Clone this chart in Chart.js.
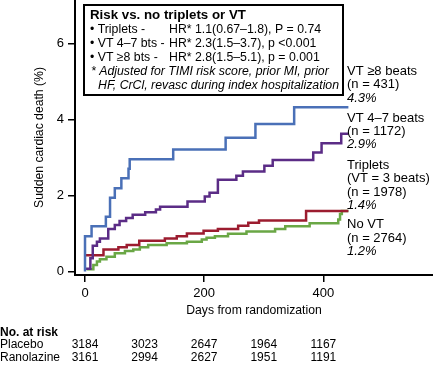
<!DOCTYPE html>
<html>
<head>
<meta charset="utf-8">
<script src="https://cdn.jsdelivr.net/npm/chart.js@4/dist/chart.umd.min.js"></script>
<style>
  body { margin: 0; background: #fff; }
  canvas { display: block; }
</style>
</head>
<body>
<canvas id="kmChart" width="433" height="366"></canvas>
<script>
// Kaplan-Meier style step curves (days, % sudden cardiac death)
const vt8Days = [0, 0, 11, 35, 42, 50, 61, 73, 75, 148, 236, 286, 351, 442];
const vt8Vals = [0, 0.93, 1.19, 1.44, 1.94, 2.19, 2.45, 2.70, 2.95, 3.21, 3.52, 3.88, 4.32, 4.32];

const vt47Days = [0, 9, 13, 20, 25, 39, 50, 58, 69, 80, 101, 119, 126, 172, 201, 209, 223, 254, 265, 301, 315, 383, 397, 430, 442];
const vt47Vals = [0.07, 0.35, 0.68, 0.78, 0.87, 1.12, 1.22, 1.33, 1.41, 1.49, 1.56, 1.63, 1.70, 1.84, 1.97, 2.07, 2.41, 2.52, 2.63, 2.78, 2.93, 3.13, 3.37, 3.62, 3.62];

const tripDays = [0, 31, 56, 70, 91, 134, 154, 171, 199, 223, 257, 274, 292, 371, 442];
const tripVals = [0.43, 0.58, 0.64, 0.70, 0.81, 0.87, 0.93, 1.00, 1.07, 1.12, 1.20, 1.28, 1.34, 1.59, 1.59];

const noVtDays = [3, 14, 20, 25, 36, 50, 67, 81, 92, 106, 137, 171, 196, 204, 218, 240, 271, 319, 336, 377, 425, 428, 431, 442];
const noVtVals = [0.06, 0.17, 0.26, 0.32, 0.39, 0.48, 0.54, 0.58, 0.64, 0.70, 0.74, 0.78, 0.84, 0.89, 0.93, 0.99, 1.05, 1.12, 1.19, 1.27, 1.37, 1.51, 1.59, 1.59];

const xTicks = [0, 200, 400];
const yTicks = [0, 2, 4, 6];

// labels at the right end of each curve (last line is italic)
const endLabels = [
  ['VT \u22658 beats', '(n = 431)', '4.3%'],
  ['VT 4\u20137 beats', '(n = 1172)', '2.9%'],
  ['Triplets', '(VT = 3 beats)', '(n = 1978)', '1.4%'],
  ['No VT', '(n = 2764)', '1.2%']
];

// hazard ratio box
const riskTitle = 'Risk vs. no triplets or VT';
const riskGroups = ['\u2022 Triplets -', '\u2022 VT 4\u20137 bts -', '\u2022 VT \u22658 bts -'];
const riskHR = ['HR* 1.1(0.67\u20131.8), P = 0.74', 'HR* 2.3(1.5\u20133.7), p <0.001', 'HR* 2.8(1.5\u20135.1), p = 0.001'];
const riskNote = ['* Adjusted for TIMI risk score, prior MI, prior', 'HF, CrCl, revasc during index hospitalization'];

// number at risk table
const atRiskDays = [0, 100, 200, 300, 400];
const placeboRisk = [3184, 3023, 2647, 1964, 1167];
const ranolazineRisk = [3161, 2994, 2627, 1951, 1191];

const FONT = '"Liberation Sans", Arial, Helvetica, sans-serif';

function pts(days, vals) {
  return days.map((d, i) => ({ x: d, y: vals[i] }));
}

function stepSet(days, vals, color) {
  return {
    data: pts(days, vals),
    borderColor: color,
    borderWidth: 2.5,
    stepped: 'before',
    pointRadius: 0,
    fill: false
  };
}

const overlayText = {
  id: 'overlayText',
  afterDraw(chart) {
    const ctx = chart.ctx;
    const xs = chart.scales.x;
    ctx.save();
    ctx.fillStyle = '#000';
    ctx.textBaseline = 'alphabetic';
    ctx.textAlign = 'left';

    // HR box
    ctx.strokeStyle = '#000';
    ctx.lineWidth = 2;
    ctx.strokeRect(84, 5, 259, 90);
    ctx.font = 'bold 13.3px ' + FONT;
    ctx.fillText(riskTitle, 90, 18.5);
    ctx.font = '12.3px ' + FONT;
    riskGroups.forEach((g, i) => {
      ctx.fillText(g, 90, 32.5 + i * 14.2);
      ctx.fillText(riskHR[i], 169, 32.5 + i * 14.2);
    });
    ctx.font = 'italic 12.3px ' + FONT;
    ctx.fillText(riskNote[0], 91, 75);
    ctx.fillText(riskNote[1], 98, 88.7);

    // end-of-curve labels
    const groupTops = [75, 121.7, 169, 228.3];
    endLabels.forEach((lines, g) => {
      lines.forEach((t, i) => {
        ctx.font = (i === lines.length - 1 ? 'italic ' : '') + '13px ' + FONT;
        ctx.fillText(t, 347, groupTops[g] + i * 13.3);
      });
    });

    // number at risk
    ctx.font = 'bold 12px ' + FONT;
    ctx.fillText('No. at risk', 0, 336);
    ctx.font = '12px ' + FONT;
    ctx.fillText('Placebo', 0, 348.3);
    ctx.fillText('Ranolazine', 0, 360.5);
    ctx.textAlign = 'center';
    atRiskDays.forEach((d, i) => {
      const px = xs.getPixelForValue(d);
      ctx.fillText(String(placeboRisk[i]), px, 348.3);
      ctx.fillText(String(ranolazineRisk[i]), px, 360.5);
    });
    ctx.restore();
  }
};

new Chart(document.getElementById('kmChart'), {
  type: 'line',
  data: {
    datasets: [
      stepSet(vt8Days, vt8Vals, '#4a70b7'),
      stepSet(vt47Days, vt47Vals, '#5b2c86'),
      stepSet(tripDays, tripVals, '#9c1c2f'),
      stepSet(noVtDays, noVtVals, '#6aa745')
    ]
  },
  options: {
    responsive: false,
    devicePixelRatio: 1,
    animation: false,
    layout: { padding: 0 },
    plugins: {
      legend: { display: false },
      tooltip: { enabled: false }
    },
    scales: {
      x: {
        type: 'linear',
        min: -16.8,
        max: 584,
        afterBuildTicks: axis => { axis.ticks = xTicks.map(v => ({ value: v })); },
        afterFit: axis => {
          axis.height = 91;
          axis.paddingLeft = 0;
          axis.paddingRight = 0;
        },
        grid: { display: true, drawOnChartArea: false, drawTicks: true, tickLength: 7, color: '#000', lineWidth: 1.5 },
        border: { display: true, color: '#000', width: 2 },
        ticks: { color: '#000', font: { family: FONT, size: 13 }, padding: 4, maxRotation: 0 },
        title: {
          display: true,
          text: 'Days from randomization',
          color: '#000',
          font: { family: FONT, size: 12.2 },
          padding: { top: 0, bottom: 48 }
        }
      },
      y: {
        min: -0.092,
        max: 7.14,
        afterBuildTicks: axis => { axis.ticks = yTicks.map(v => ({ value: v })); },
        afterFit: axis => {
          axis.width = 75;
          axis.paddingTop = 0;
          axis.paddingBottom = 0;
        },
        grid: { display: true, drawOnChartArea: false, drawTicks: true, tickLength: 7, color: '#000', lineWidth: 1.5 },
        border: { display: true, color: '#000', width: 2 },
        ticks: { color: '#000', font: { family: FONT, size: 13 }, padding: 4 },
        title: {
          display: true,
          text: 'Sudden cardiac death (%)',
          color: '#000',
          font: { family: FONT, size: 12.2 },
          padding: { top: 32, bottom: 0 }
        }
      }
    }
  },
  plugins: [overlayText]
});
</script>
</body>
</html>
